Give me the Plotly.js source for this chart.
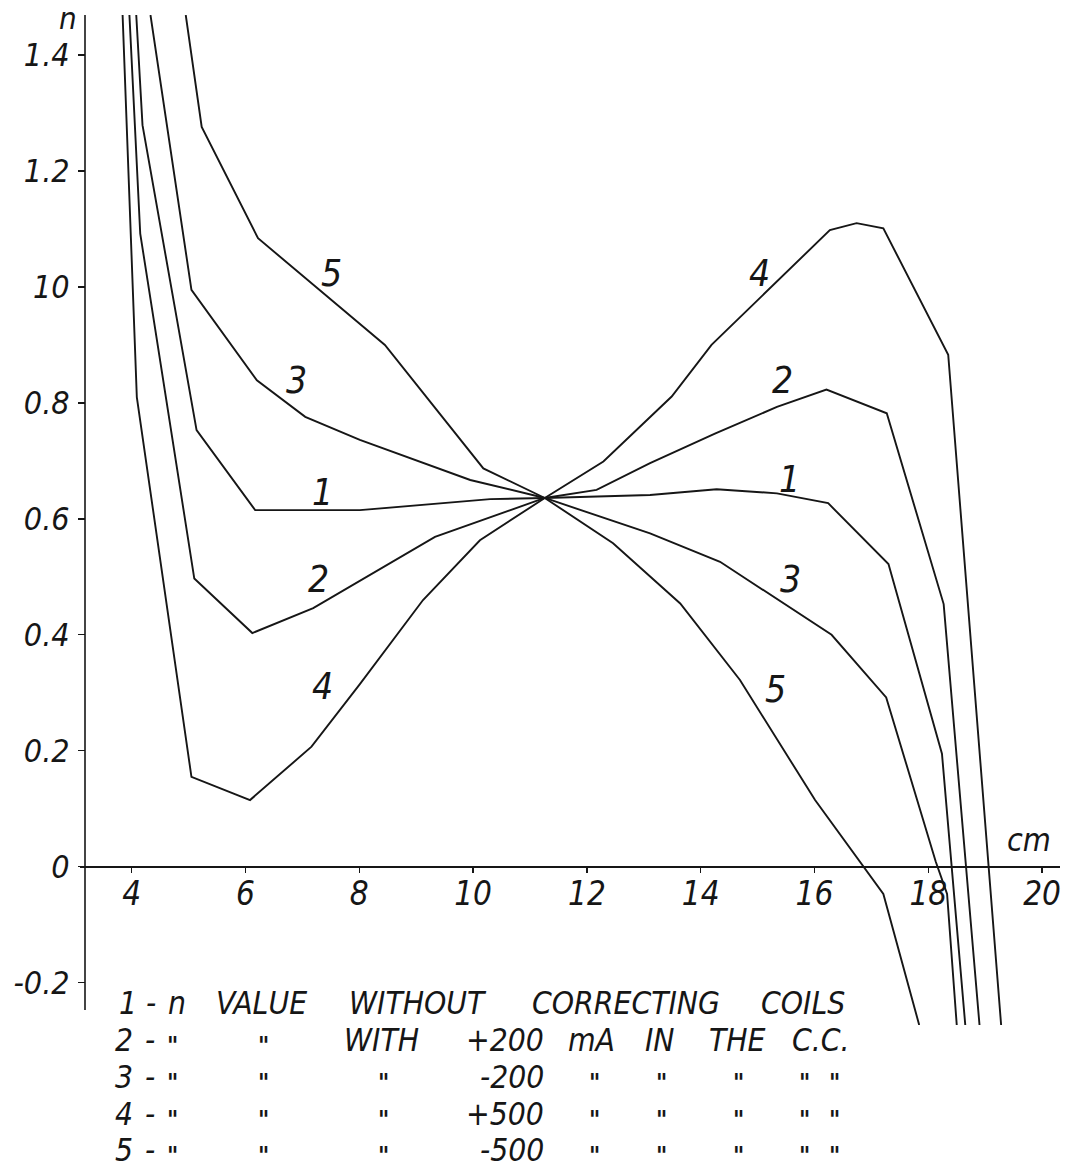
<!DOCTYPE html>
<html><head><meta charset="utf-8">
<script src="https://cdn.plot.ly/plotly-3.0.1.min.js"></script>
<style>html,body{margin:0;padding:0;background:#fff}</style>
</head><body><div id="chart" style="width:1068px;height:1171px"></div>
<script>
// ---- data: position along the field (cm) and field index n ----
const x1 = [4.08, 4.19, 5.14, 6.17, 8.01, 10.30, 11.26, 13.11, 14.28, 15.34, 16.24, 17.30, 18.24, 18.65];
const y1 = [1.469, 1.279, 0.753, 0.615, 0.615, 0.634, 0.636, 0.641, 0.651, 0.644, 0.627, 0.522, 0.195, -0.273];

const x2 = [3.96, 4.15, 5.10, 6.12, 7.19, 9.33, 11.26, 12.17, 13.11, 14.25, 15.34, 16.21, 17.27, 18.27, 18.90];
const y2 = [1.469, 1.092, 0.497, 0.403, 0.446, 0.569, 0.636, 0.650, 0.696, 0.747, 0.793, 0.823, 0.782, 0.453, -0.273];

const x3 = [4.33, 5.05, 6.20, 7.05, 8.01, 9.95, 11.26, 13.11, 14.34, 16.30, 17.26, 18.13, 18.33, 18.50];
const y3 = [1.469, 0.995, 0.839, 0.776, 0.736, 0.667, 0.636, 0.575, 0.526, 0.400, 0.292, 0.009, -0.047, -0.273];

const x4 = [3.84, 4.09, 5.05, 6.08, 7.16, 8.01, 9.12, 10.12, 11.26, 12.29, 13.49, 14.19, 16.27, 16.74, 17.21, 18.35, 19.28];
const y4 = [1.469, 0.810, 0.155, 0.115, 0.207, 0.315, 0.460, 0.563, 0.636, 0.699, 0.811, 0.900, 1.098, 1.110, 1.101, 0.883, -0.273];

const x5 = [4.95, 5.23, 6.22, 8.45, 10.18, 11.26, 12.46, 13.64, 14.69, 16.01, 17.21, 17.84];
const y5 = [1.469, 1.276, 1.084, 0.900, 0.687, 0.636, 0.558, 0.454, 0.322, 0.115, -0.047, -0.273];

const curveNames = ["1", "2", "3", "4", "5"];

// axis ticks
const xTickVals = [4, 6, 8, 10, 12, 14, 16, 18, 20];
const xTickText = ["4", "6", "8", "10", "12", "14", "16", "18", "20"];
const yTickVals = [-0.2, 0, 0.2, 0.4, 0.6, 0.8, 1.0, 1.2, 1.4];
const yTickText = ["-0.2", "0", "0.2", "0.4", "0.6", "0.8", "10", "1.2", "1.4"];

// curve number labels written beside the lines
const labelText = ["5", "3", "1", "2", "4", "4", "2", "1", "3", "5"];
const labelX = [7.52, 6.905, 7.345, 7.275, 7.345, 15.025, 15.43, 15.555, 15.57, 15.31];
const labelY = [1.024, 0.839, 0.646, 0.495, 0.310, 1.024, 0.839, 0.667, 0.495, 0.305];

// key text
const keyNums = ["1", "2", "3", "4", "5"];
const keyRow1 = ["n", "VALUE", "WITHOUT", "CORRECTING", "COILS"];
const keyRow2 = ["WITH", "+200", "mA", "IN", "THE", "C.C."];
const keyCurrents = ["-200", "+500", "-500"];
const ditto = '"';

// ---- geometry ----
const W = 1068, H = 1171;
const PL = 80, PR = 1060, PT = 15, PB = 1025;
const xRange = [3.0914, 20.3146];
const yRange = [-0.2730, 1.4690];
const pxX = px => (px - PL) / (PR - PL);
const pxY = py => (PB - py) / (PB - PT);

const FONT = "DejaVu Sans Condensed, DejaVu Sans, sans-serif";
const INK = "#161616";

const xs = [x1, x2, x3, x4, x5], ys = [y1, y2, y3, y4, y5];
const traces = xs.map((x, i) => ({
  type: "scatter", mode: "lines", x: x, y: ys[i], name: curveNames[i],
  line: {color: INK, width: 1.9}, hoverinfo: "skip"
}));

const ann = [];
labelText.forEach((t, i) => ann.push({
  text: t, x: labelX[i], y: labelY[i], xref: "x", yref: "y", showarrow: false,
  xanchor: "center", yanchor: "middle",
  font: {family: FONT, size: 37, color: INK, style: "italic"}
}));

// axis letters
ann.push({text: "n", xref: "paper", yref: "paper", x: pxX(68), y: pxY(18), showarrow: false,
  xanchor: "center", yanchor: "middle",
  font: {family: FONT, size: 31, color: INK, style: "italic"}});
ann.push({text: "cm", xref: "paper", yref: "paper", x: pxX(1029), y: pxY(840), showarrow: false,
  xanchor: "center", yanchor: "middle",
  font: {family: FONT, size: 32, color: INK, style: "italic"}});

// key
const rowY = [1003, 1040, 1077, 1114, 1150];
function tok(t, cx, cy, anchor, isDitto) {
  ann.push({text: t, xref: "paper", yref: "paper", x: pxX(cx), y: pxY(cy),
    xanchor: anchor || "center", yanchor: "middle", showarrow: false,
    yshift: isDitto ? -6 : 0,
    font: {family: FONT, size: isDitto ? 24 : 31.5, color: INK, style: "italic",
           weight: isDitto ? "bold" : "normal"}});
}
// row 1
tok(keyNums[0], 128, rowY[0]);
tok("-", 151, rowY[0]);
tok(keyRow1[0], 177, rowY[0]);
tok(keyRow1[1], 261, rowY[0]);
tok(keyRow1[2], 418, rowY[0]);
tok(keyRow1[3], 626, rowY[0]);
tok(keyRow1[4], 803, rowY[0]);
// rows 2..5
for (let r = 1; r < 5; r++) {
  const cy = rowY[r];
  tok(keyNums[r], 124, cy);
  tok("-", 150, cy);
  tok(ditto, 172, cy, "center", true);
  tok(ditto, 263, cy, "center", true);
  if (r === 1) {
    tok(keyRow2[0], 381, cy);
    tok(keyRow2[1], 546, cy, "right");
    tok(keyRow2[2], 591, cy);
    tok(keyRow2[3], 660, cy);
    tok(keyRow2[4], 737, cy);
    tok(keyRow2[5], 821, cy);
  } else {
    tok(ditto, 383, cy, "center", true);
    tok(keyCurrents[r - 2], 546, cy, "right");
    tok(ditto, 594, cy, "center", true);
    tok(ditto, 661, cy, "center", true);
    tok(ditto, 738, cy, "center", true);
    tok(ditto, 804, cy, "center", true);
    tok(ditto, 834, cy, "center", true);
  }
}

const yAxisPos = pxX(85);
const layout = {
  width: W, height: H,
  margin: {l: PL, r: W - PR, t: PT, b: H - PB, pad: 0},
  paper_bgcolor: "#fff", plot_bgcolor: "#fff",
  showlegend: false,
  font: {family: FONT, color: INK, style: "italic"},
  xaxis: {
    range: xRange, showgrid: false, zeroline: false, showline: false,
    anchor: "free", position: (0 - yRange[0]) / (yRange[1] - yRange[0]),
    tickmode: "array", tickvals: xTickVals, ticktext: xTickText,
    ticks: "outside", ticklen: 5, tickwidth: 1.4, tickcolor: INK,
    tickfont: {family: FONT, size: 33, color: INK, style: "italic"},
    ticklabelstandoff: -7, fixedrange: true
  },
  yaxis: {
    range: yRange, showgrid: false, showline: false,
    zeroline: true, zerolinecolor: INK, zerolinewidth: 1.6,
    anchor: "free", position: yAxisPos,
    tickmode: "array", tickvals: yTickVals, ticktext: yTickText,
    ticks: "outside", ticklen: 7, tickwidth: 1.4, tickcolor: INK,
    tickfont: {family: FONT, size: 32, color: INK, style: "italic"},
    ticklabelstandoff: 2, fixedrange: true
  },
  shapes: [{
    type: "line", xref: "paper", yref: "y", x0: yAxisPos, x1: yAxisPos,
    y0: -0.247, y1: yRange[1], line: {color: INK, width: 1.6}
  }],
  annotations: ann
};

Plotly.newPlot("chart", traces, layout, {staticPlot: true, displayModeBar: false});
</script>
</body></html>
